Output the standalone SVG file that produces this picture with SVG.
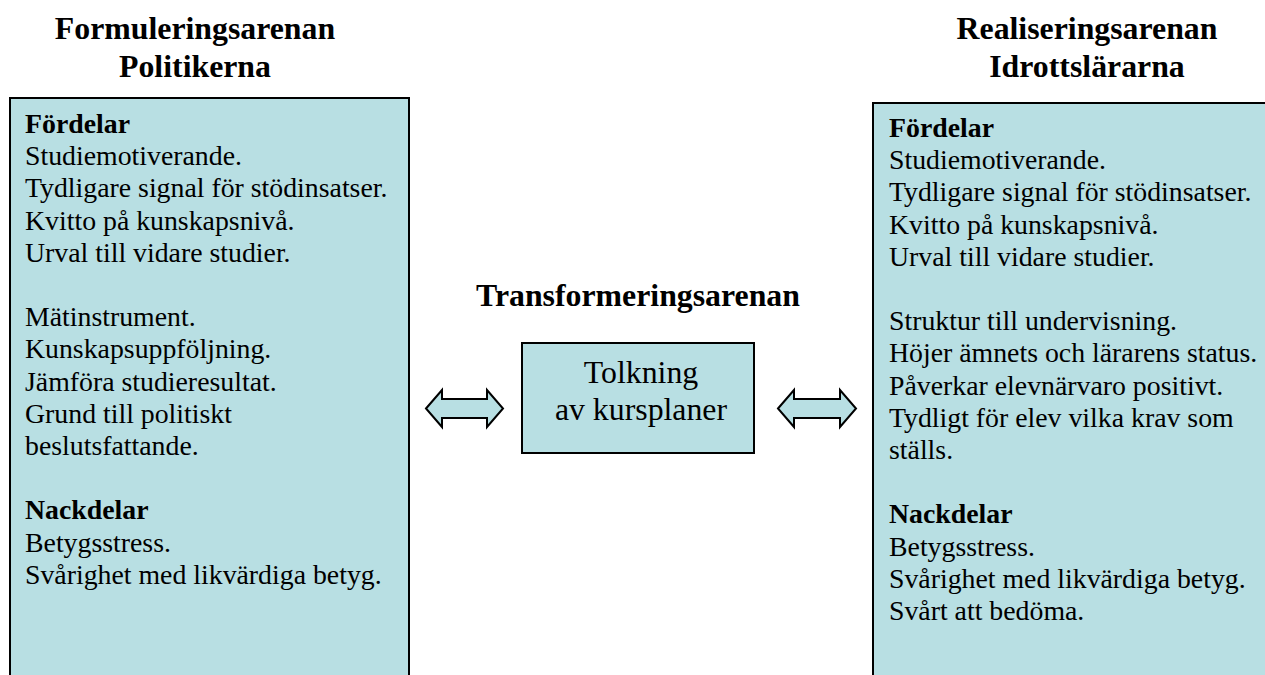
<svg xmlns="http://www.w3.org/2000/svg" width="1265" height="675" viewBox="0 0 1265 675">
<style>
.box{fill:#B8DFE3;stroke:#000;stroke-width:2}
text{font-family:'Liberation Serif',Tinos,'Times New Roman',Times,'DejaVu Serif',serif;fill:#000}
.h{font-weight:bold;font-size:31.8px;text-anchor:middle}
.t{font-size:27.8px}
.b{font-weight:bold}
.c{font-size:31.8px;text-anchor:middle}
.arrow{fill:#B8DFE3;stroke:#000;stroke-width:2;stroke-linejoin:miter}
</style>
<rect width="1265" height="675" fill="#fff"/>
<g id="heading-left">
<text class="h" x="195" y="39" font-family="Liberation Serif, serif">Formuleringsarenan</text>
<text class="h" x="195" y="77" font-family="Liberation Serif, serif">Politikerna</text>
</g>
<g id="heading-right">
<text class="h" x="1087" y="39" font-family="Liberation Serif, serif">Realiseringsarenan</text>
<text class="h" x="1087" y="77" font-family="Liberation Serif, serif">Idrottslärarna</text>
</g>
<g id="heading-center">
<text class="h" x="638" y="306" font-family="Liberation Serif, serif">Transformeringsarenan</text>
</g>
<g id="node-left">
<rect class="box" x="10" y="98" width="399" height="590"/>
<text class="t" x="25" y="133" font-family="Liberation Serif, serif"><tspan class="b" x="25">Fördelar</tspan><tspan x="25" dy="32.2">Studiemotiverande.</tspan><tspan x="25" dy="32.2">Tydligare signal för stödinsatser.</tspan><tspan x="25" dy="32.2">Kvitto på kunskapsnivå.</tspan><tspan x="25" dy="32.2">Urval till vidare studier.</tspan><tspan x="25" dy="64.4">Mätinstrument.</tspan><tspan x="25" dy="32.2">Kunskapsuppföljning.</tspan><tspan x="25" dy="32.2">Jämföra studieresultat.</tspan><tspan x="25" dy="32.2">Grund till politiskt</tspan><tspan x="25" dy="32.2">beslutsfattande.</tspan><tspan class="b" x="25" dy="64.4">Nackdelar</tspan><tspan x="25" dy="32.2">Betygsstress.</tspan><tspan x="25" dy="32.2">Svårighet med likvärdiga betyg.</tspan></text>
</g>
<g id="node-center">
<rect class="box" x="522" y="343" width="232" height="110"/>
<text class="c" x="641" y="383" font-family="Liberation Serif, serif">Tolkning</text>
<text class="c" x="641" y="420" font-family="Liberation Serif, serif">av kursplaner</text>
</g>
<g id="node-right">
<rect class="box" x="873" y="103" width="400" height="590"/>
<text class="t" x="889" y="137" font-family="Liberation Serif, serif"><tspan class="b" x="889">Fördelar</tspan><tspan x="889" dy="32.2">Studiemotiverande.</tspan><tspan x="889" dy="32.2">Tydligare signal för stödinsatser.</tspan><tspan x="889" dy="32.2">Kvitto på kunskapsnivå.</tspan><tspan x="889" dy="32.2">Urval till vidare studier.</tspan><tspan x="889" dy="64.4">Struktur till undervisning.</tspan><tspan x="889" dy="32.2">Höjer ämnets och lärarens status.</tspan><tspan x="889" dy="32.2">Påverkar elevnärvaro positivt.</tspan><tspan x="889" dy="32.2">Tydligt för elev vilka krav som</tspan><tspan x="889" dy="32.2">ställs.</tspan><tspan class="b" x="889" dy="64.4">Nackdelar</tspan><tspan x="889" dy="32.2">Betygsstress.</tspan><tspan x="889" dy="32.2">Svårighet med likvärdiga betyg.</tspan><tspan x="889" dy="32.2">Svårt att bedöma.</tspan></text>
</g>
<g id="connectors">
<path class="arrow" d="M426,408.5 L442,390 L442,399 L487,399 L487,390 L503,408.5 L487,427 L487,418 L442,418 L442,427 Z"/>
<path class="arrow" d="M778,408.5 L794,390 L794,399 L840,399 L840,390 L856,408.5 L840,427 L840,418 L794,418 L794,427 Z"/>
</g>
</svg>
